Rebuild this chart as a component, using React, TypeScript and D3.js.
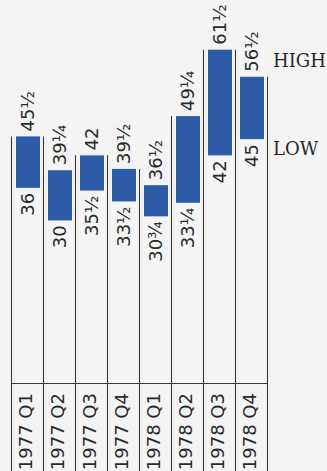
import React from "react";
import * as d3 from "d3";

const quarters = ["1977 Q1", "1977 Q2", "1977 Q3", "1977 Q4", "1978 Q1", "1978 Q2", "1978 Q3", "1978 Q4"];
const highs = [45.5, 39.25, 42, 39.5, 36.5, 49.25, 61.5, 56.5];
const lows = [36, 30, 35.5, 33.5, 30.75, 33.25, 42, 45];
const highLabels = ["45½", "39¼", "42", "39½", "36½", "49¼", "61½", "56½"];
const lowLabels = ["36", "30", "35½", "33½", "30¾", "33¼", "42", "45"];

const W = 327;
const H = 471;

export default function App() {
  const x = d3.scaleBand<string>().domain(quarters).range([11, 267]).paddingInner(0).paddingOuter(0);
  const y = d3.scaleLinear().domain([0, 70]).range([383, 383 - 70 * 5.42]);
  const bw = x.bandwidth();
  const baseY = y(0);
  const lineColor = "#3a3a3a";
  const barColor = "#2c5ba8";
  const numFont = "'DejaVu Sans', sans-serif";

  // vertical separator lines: each boundary starts at max of adjacent bar tops
  const boundaries = d3.range(quarters.length + 1).map((i) => {
    const left = i > 0 ? y(highs[i - 1]) : Infinity;
    const right = i < quarters.length ? y(highs[i]) : Infinity;
    const xPos = i < quarters.length ? (x(quarters[i]) as number) : (x(quarters[quarters.length - 1]) as number) + bw;
    return { x: xPos, top: Math.min(left, right) };
  });

  return (
    <div style={{ position: "fixed", left: 0, top: 0, width: W, height: H, background: "#f4f4f4" }}>
      <svg width={W} height={H} style={{ display: "block" }}>
        <rect x={0} y={0} width={W} height={H} fill="#f4f4f4" />
        {boundaries.map((b, i) => (
          <line key={"v" + i} x1={Math.round(b.x) + 0.5} x2={Math.round(b.x) + 0.5} y1={b.top} y2={H} stroke={lineColor} strokeWidth={1.1} />
        ))}
        <line x1={boundaries[0].x} x2={boundaries[boundaries.length - 1].x + 1} y1={baseY + 0.5} y2={baseY + 0.5} stroke={lineColor} strokeWidth={1.1} />
        {quarters.map((q, i) => {
          const cx = x(q) as number;
          const top = y(highs[i]);
          const bot = y(lows[i]);
          return (
            <g key={q}>
              <rect x={cx + 5} y={top} width={24} height={bot - top} fill={barColor} />
              <text
                transform={`translate(${cx + 23},${top - 5}) rotate(-90)`}
                fontFamily={numFont}
                fontSize={18}
                fill="#2a2a2a"
                textAnchor="start"
              >
                {highLabels[i]}
              </text>
              <text
                transform={`translate(${cx + 23},${bot + 5}) rotate(-90)`}
                fontFamily={numFont}
                fontSize={18}
                fill="#2a2a2a"
                textAnchor="end"
              >
                {lowLabels[i]}
              </text>
              <text
                transform={`translate(${cx + 21},${baseY + 10}) rotate(-90)`}
                fontFamily={numFont}
                fontSize={18}
                fill="#2a2a2a"
                textAnchor="end"
              >
                {q}
              </text>
            </g>
          );
        })}
        <text x={273} y={67} fontFamily="'DejaVu Serif', serif" fontSize={18} fill="#2a2a2a">HIGH</text>
        <text x={273} y={155} fontFamily="'DejaVu Serif', serif" fontSize={18} fill="#2a2a2a">LOW</text>
      </svg>
    </div>
  );
}
